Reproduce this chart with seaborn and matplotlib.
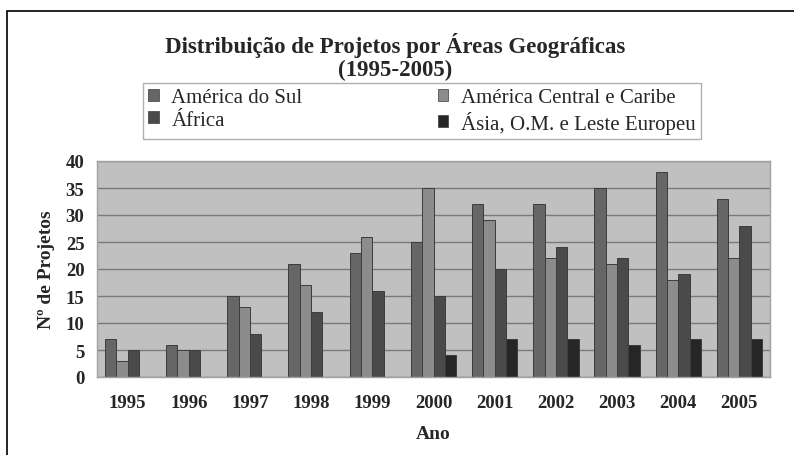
import numpy as np
import pandas as pd
import seaborn as sns
import matplotlib.pyplot as plt
from matplotlib.patches import Rectangle

anos = ['1995', '1996', '1997', '1998', '1999', '2000', '2001', '2002', '2003', '2004', '2005']
areas = ['América do Sul', 'América Central e Caribe', 'África', 'Ásia, O.M. e Leste Europeu']
america_sul = [7, 6, 15, 21, 23, 25, 32, 32, 35, 38, 33]
america_central = [3, 5, 13, 17, 26, 35, 29, 22, 21, 18, 22]
africa = [5, 5, 8, 12, 16, 15, 20, 24, 22, 19, 28]
asia = [0, 0, 0, 0, 0, 4, 7, 7, 6, 7, 7]
cores = ['#666666', '#8c8c8c', '#4a4a4a', '#262626']

rows = []
for area, vals in zip(areas, [america_sul, america_central, africa, asia]):
    for ano, v in zip(anos, vals):
        rows.append({'Ano': ano, 'Projetos': v, 'Area': area})
df = pd.DataFrame(rows)

sns.set_style('white')
plt.rcParams['font.family'] = ['Liberation Serif', 'DejaVu Serif']

fig = plt.figure(figsize=(7.94, 4.56), dpi=100)
ax = fig.add_axes([97/794, 1-378/456, 673/794, 216/456])
ax.set_facecolor('#c0c0c0')

sns.barplot(data=df, x='Ano', y='Projetos', hue='Area', hue_order=areas,
            palette=cores, width=0.74, edgecolor='#3c3c3c', linewidth=0.7,
            ax=ax, legend=True)

ax.set_ylim(0, 40)
ax.set_yticks(range(0, 41, 5))
ax.set_xlim(-0.5, len(anos)-0.5)
ax.yaxis.grid(True, color='#7a7a7a', linewidth=1.0)
ax.set_axisbelow(True)
for s in ax.spines.values():
    s.set_color('#a0a0a0')
    s.set_linewidth(1.0)
ax.set_xticks(np.arange(-0.5, len(anos), 1.0), minor=True)
ax.tick_params(axis='x', which='minor', length=5, color='#a0a0a0', width=1)
ax.tick_params(axis='x', which='major', length=0, pad=12)
ax.tick_params(axis='y', length=5, color='#a0a0a0', width=1, pad=4)
for lab in ax.get_xticklabels() + ax.get_yticklabels():
    lab.set_fontweight('bold')
    lab.set_fontsize(13.5)
ax.set_xlabel('Ano', fontsize=14, fontweight='bold', labelpad=10)
ax.set_ylabel('Nº de Projetos', fontsize=14, fontweight='bold', labelpad=8)

# legend filled row by row like the original
handles, labels = ax.get_legend_handles_labels()
ordem = [0, 2, 1, 3]
ax.get_legend().remove()
leg = fig.legend([handles[i] for i in ordem], [labels[i] for i in ordem], ncol=2, loc='center',
                 bbox_to_anchor=(422/794, 1-112/456),
                 frameon=True, fancybox=False, edgecolor='#b0b0b0', facecolor='white',
                 fontsize=15, handlelength=0.5, handleheight=0.5, handletextpad=0.6,
                 columnspacing=6.5, labelspacing=0.15, borderpad=0.25, borderaxespad=0,
                 framealpha=1)
for h in leg.legend_handles:
    h.set_linewidth(0.5)

fig.text(0.4975, 1-45/456, 'Distribuição de Projetos por Áreas Geográficas',
         ha='center', va='center', fontsize=16.5, fontweight='bold')
fig.text(0.4975, 1-70/456, '(1995-2005)', ha='center', va='center',
         fontsize=16.5, fontweight='bold')

fig.patches.append(Rectangle((7/794, -0.1), 1.2, (1-12/456)+0.1, transform=fig.transFigure,
                             fill=False, edgecolor='black', linewidth=1.2))

fig.savefig('out.png', dpi=100, facecolor='white')
